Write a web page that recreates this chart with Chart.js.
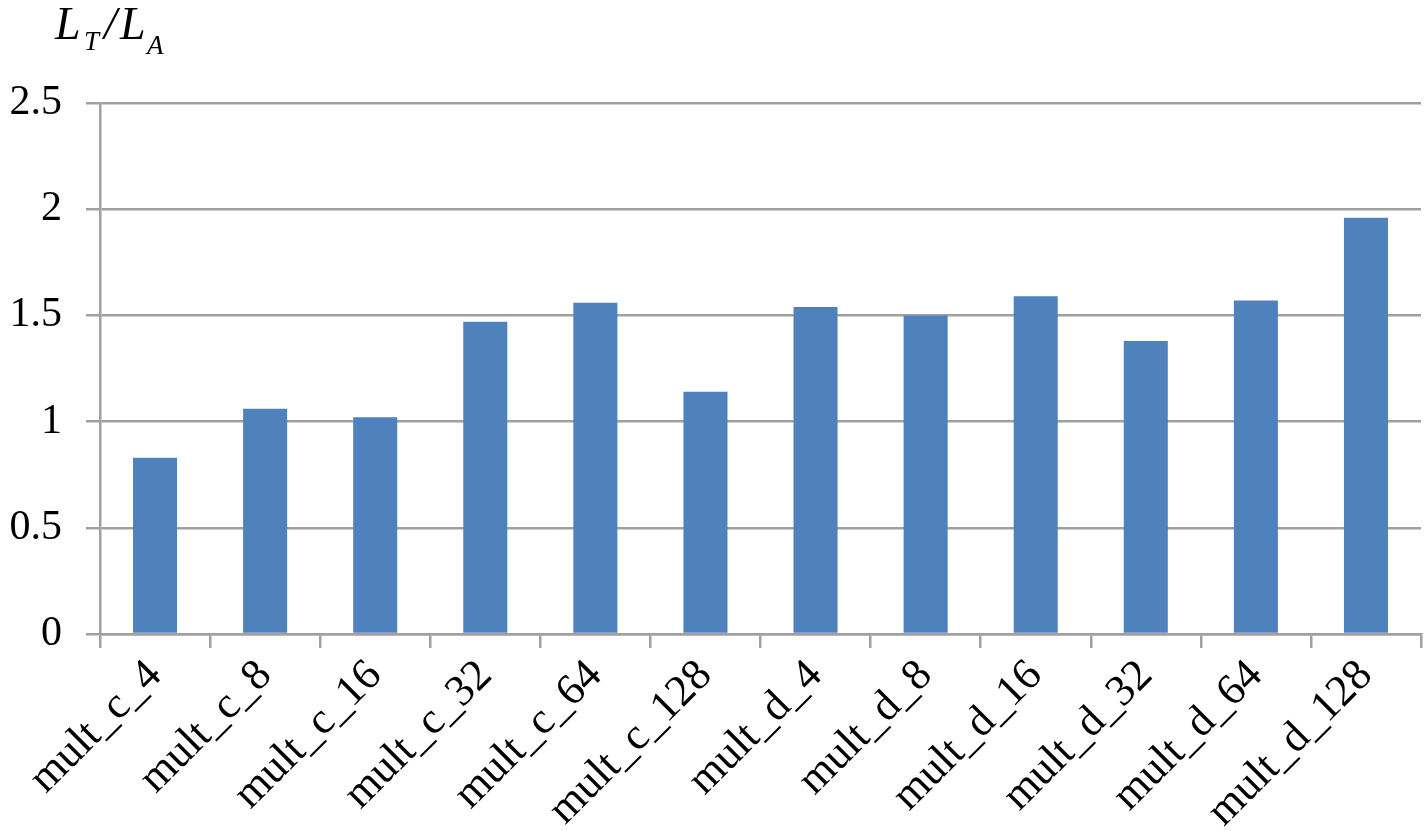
<!DOCTYPE html>
<html lang="en">
<head>
  <meta charset="UTF-8" />
  <title>LT / LA ratio</title>
  <style>
    body { margin: 0; padding: 0; background: #ffffff; }
    #wrap { width: 1428px; height: 831px; position: relative; }
  </style>
</head>
<body>
  <div id="wrap"><canvas id="ratioChart" width="1428" height="831"></canvas></div>

  <script src="https://cdn.jsdelivr.net/npm/chart.js@4"></script>
  <script>
    const categories = ["mult_c_4", "mult_c_8", "mult_c_16", "mult_c_32", "mult_c_64", "mult_c_128",
                        "mult_d_4", "mult_d_8", "mult_d_16", "mult_d_32", "mult_d_64", "mult_d_128"];
    const ratios = [0.83, 1.06, 1.02, 1.47, 1.56, 1.14, 1.54, 1.50, 1.59, 1.38, 1.57, 1.96];
    const yTicks = [0, 0.5, 1, 1.5, 2, 2.5];

    const gridGray = "#a0a0a0";
    const serif = "'Liberation Serif', 'Times New Roman', serif";

    // y axis title  L_T / L_A  with subscripts
    const axisTitle = {
      id: "axisTitle",
      afterDraw(chart) {
        const c = chart.ctx;
        c.save();
        c.fillStyle = "#000";
        c.textBaseline = "alphabetic";
        // [text, font size, baseline, left x]
        const parts = [
          ["L", 46, 39, 55], ["T", 27, 50, 84], ["/", 46, 39, 104], ["L", 46, 39, 120], ["A", 27, 54, 147]
        ];
        parts.forEach(([t, size, base, x]) => {
          c.font = "italic " + size + "px " + serif;
          c.fillText(t, x, base);
        });
        c.restore();
      }
    };

    const ctx = document.getElementById("ratioChart").getContext("2d");
    new Chart(ctx, {
      type: "bar",
      data: {
        labels: categories,
        datasets: [{
          data: ratios,
          backgroundColor: "#4f81bd",
          barPercentage: 0.4,
          categoryPercentage: 1
        }]
      },
      options: {
        responsive: false,
        animation: false,
        layout: { padding: { top: 103, right: 7, left: 0, bottom: 0 } },
        plugins: { legend: { display: false }, tooltip: { enabled: false } },
        scales: {
          x: {
            grid: { offset: true, drawOnChartArea: false, drawTicks: true, tickLength: 14, color: gridGray, lineWidth: 2.5 },
            border: { color: gridGray, width: 2.5 },
            ticks: {
              color: "#000",
              font: { family: serif, size: 44 },
              minRotation: 45, maxRotation: 45,
              autoSkip: false,
              padding: 2
            },
            afterFit(scale) { scale.height = 197; }
          },
          y: {
            min: 0, max: 2.5,
            afterBuildTicks(scale) { scale.ticks = yTicks.map(v => ({ value: v })); },
            grid: { color: gridGray, lineWidth: 2.5, tickLength: 14 },
            border: { color: gridGray, width: 2.5 },
            ticks: {
              color: "#000",
              font: { family: serif, size: 42 },
              padding: 24,
              callback: v => String(v)
            },
            afterFit(scale) { scale.width = 100; }
          }
        }
      },
      plugins: [axisTitle]
    });
  </script>
</body>
</html>
